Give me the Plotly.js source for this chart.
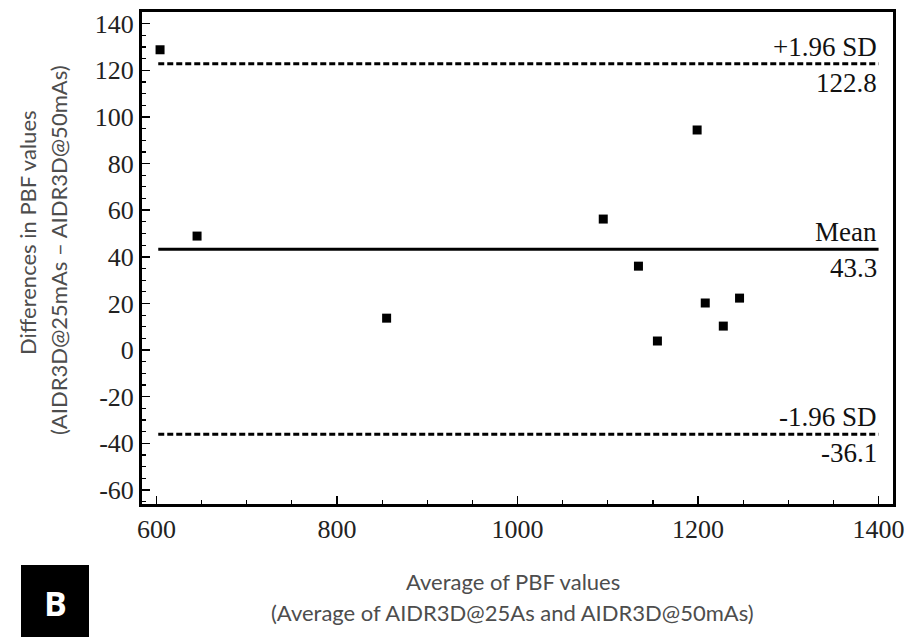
<!DOCTYPE html>
<html>
<head>
<meta charset="utf-8">
<script src="https://cdn.plot.ly/plotly-3.0.1.min.js"></script>
<style>html,body{margin:0;padding:0;background:#fff;}#chart{width:915px;height:637px;}</style>
</head>
<body>
<div id="chart"></div>
<script>
// Data
const avgPBF  = [604, 645, 855, 1095, 1134, 1155, 1199, 1208, 1228, 1246];
const diffPBF = [128.8, 48.9, 13.7, 56.2, 36.0, 3.9, 94.4, 20.2, 10.3, 22.3];
const meanDiff = 43.3;
const upperLoA = 122.8;
const lowerLoA = -36.1;
const lineSpan = [602, 1400];
const xTickVals = [600, 800, 1000, 1200, 1400];
const yTickVals = [-60, -40, -20, 0, 20, 40, 60, 80, 100, 120, 140];
const limitLabels = ['+1.96 SD', 'Mean', '-1.96 SD'];

const W = 915, H = 637;
const M = {l: 142, r: 22, t: 12, b: 133};
const pw = W - M.l - M.r, ph = H - M.t - M.b;
const px = x => (x - M.l) / pw;
const py = y => (H - M.b - y) / ph;

const serif = 'Liberation Serif, Times New Roman, serif';
const sans = 'Lato, Open Sans, sans-serif';
const titleFont = {family: sans, size: 22, color: '#4d4d4d'};

const traces = [
  {x: lineSpan, y: [upperLoA, upperLoA], mode: 'lines', line: {color: '#000', width: 3, dash: '6px,3px'}, hoverinfo: 'skip'},
  {x: lineSpan, y: [meanDiff, meanDiff], mode: 'lines', line: {color: '#000', width: 3}, hoverinfo: 'skip'},
  {x: lineSpan, y: [lowerLoA, lowerLoA], mode: 'lines', line: {color: '#000', width: 3, dash: '6px,3px'}, hoverinfo: 'skip'},
  {x: avgPBF, y: diffPBF, mode: 'markers', marker: {symbol: 'square', size: 9, color: '#000'}}
];

const lbl = (text, y, anchor, shift) => ({
  xref: 'paper', yref: 'y', x: px(879), y: y, text: text, showarrow: false,
  xanchor: 'right', yanchor: anchor, yshift: shift,
  font: {family: serif, size: 27, color: '#111'}
});

const annotations = [
  lbl(limitLabels[0], upperLoA, 'bottom', 0),
  lbl(upperLoA.toFixed(1), upperLoA, 'top', -2),
  lbl(limitLabels[1], meanDiff, 'bottom', 0),
  lbl(meanDiff.toFixed(1), meanDiff, 'top', -2),
  lbl(limitLabels[2], lowerLoA, 'bottom', 0),
  lbl(lowerLoA.toFixed(1), lowerLoA, 'top', -2),
  {xref: 'paper', yref: 'paper', x: px(27), y: py(233), text: 'Differences in PBF values', textangle: -90,
   showarrow: false, xanchor: 'center', yanchor: 'middle', font: titleFont},
  {xref: 'paper', yref: 'paper', x: px(58), y: py(250), text: '(AIDR3D@25mAs \u2013 AIDR3D@50mAs)', textangle: -90,
   showarrow: false, xanchor: 'center', yanchor: 'middle', font: titleFont},
  {xref: 'paper', yref: 'paper', x: px(513), y: py(581), text: 'Average of PBF values',
   showarrow: false, xanchor: 'center', yanchor: 'middle', font: titleFont},
  {xref: 'paper', yref: 'paper', x: px(512), y: py(612), text: '(Average of AIDR3D@25As and AIDR3D@50mAs)',
   showarrow: false, xanchor: 'center', yanchor: 'middle', font: titleFont},
  {xref: 'paper', yref: 'paper', x: px(55), y: py(603), text: '<b>B</b>',
   showarrow: false, xanchor: 'center', yanchor: 'middle', font: {family: 'Open Sans, sans-serif', size: 34, color: '#fff'}}
];

const shapes = [
  {type: 'rect', xref: 'paper', yref: 'paper', x0: px(21), x1: px(89), y0: py(565), y1: py(640),
   fillcolor: '#000', line: {width: 0}, layer: 'below'}
];

const axisCommon = {
  showgrid: false, zeroline: false, showline: true, linecolor: '#000', linewidth: 3, mirror: true,
  ticks: 'inside', ticklen: 8, tickwidth: 1.5, tickcolor: '#000',
  tickfont: {family: serif, size: 26, color: '#222'}
};

const layout = {
  width: W, height: H, margin: M, paper_bgcolor: '#fff', plot_bgcolor: '#fff', showlegend: false,
  xaxis: Object.assign({}, axisCommon, {range: [584, 1416], tickmode: 'array', tickvals: xTickVals,
    ticktext: xTickVals.map(String),
    minor: {dtick: 50, tick0: 600, ticks: 'inside', ticklen: 4, tickwidth: 1.2, tickcolor: '#000'}}),
  yaxis: Object.assign({}, axisCommon, {range: [-66, 145], tickmode: 'array', tickvals: yTickVals,
    ticktext: yTickVals.map(String),
    minor: {dtick: 5, tick0: 0, ticks: 'inside', ticklen: 4, tickwidth: 1.2, tickcolor: '#000'}}),
  annotations: annotations, shapes: shapes
};

Plotly.newPlot('chart', traces, layout, {staticPlot: true, displayModeBar: false});
</script>
</body>
</html>
